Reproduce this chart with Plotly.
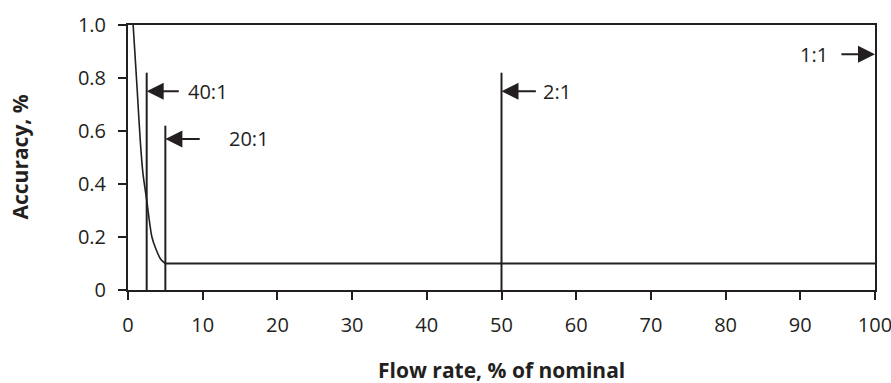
import plotly.graph_objects as go

# ---- data ----
curve_flow = [0.69, 1.0, 1.23, 1.65, 2.0, 2.5, 3.2, 3.8, 4.4, 5.0]
curve_acc = [1.0, 0.86, 0.755, 0.56, 0.44, 0.34, 0.2, 0.15, 0.115, 0.1]

flat_flow = [5, 100]
flat_acc = [0.1, 0.1]

ratio_labels = ["40:1", "20:1", "2:1", "1:1"]
ratio_flow = [2.5, 5, 50, 100]
ratio_top = [0.82, 0.62, 0.82, 1.0]
arrow_acc = [0.75, 0.57, 0.75, 0.89]
arrow_tail_flow = [7.0, 9.8, 54.8, 95.3]
label_flow = [7.8, 13.2, 55.3, 94.0]

x_ticks = [0, 10, 20, 30, 40, 50, 60, 70, 80, 90, 100]
y_ticks = [0, 0.2, 0.4, 0.6, 0.8, 1.0]
y_tick_text = ["0", "0.2", "0.4", "0.6", "0.8", "1.0"]

x_title = "Flow rate, % of nominal"
y_title = "Accuracy, %"

INK = "#231f20"
FONT = "Open Sans"
TICK_SIZE = 20
TITLE_SIZE = 21

fig = go.Figure()

fig.add_trace(go.Scatter(x=curve_flow, y=curve_acc, mode="lines",
                         line=dict(color=INK, width=1.6, shape="spline", smoothing=0.8),
                         hoverinfo="skip", showlegend=False))
fig.add_trace(go.Scatter(x=flat_flow, y=flat_acc, mode="lines",
                         line=dict(color=INK, width=2),
                         hoverinfo="skip", showlegend=False))

vx, vy = [], []
for f, t in zip(ratio_flow[:3], ratio_top[:3]):
    vx += [f, f, None]
    vy += [0, t, None]
fig.add_trace(go.Scatter(x=vx, y=vy, mode="lines",
                         line=dict(color=INK, width=2),
                         hoverinfo="skip", showlegend=False))

for lab, f, a, tail, lf in zip(ratio_labels, ratio_flow, arrow_acc, arrow_tail_flow, label_flow):
    fig.add_annotation(x=f, y=a, ax=tail, ay=a, xref="x", yref="y", axref="x", ayref="y",
                       text="", showarrow=True, arrowhead=2, arrowsize=1.7, arrowwidth=2,
                       arrowcolor=INK, standoff=0)
    anchor = "right" if tail < f else "left"
    fig.add_annotation(x=lf, y=a, xref="x", yref="y", text=lab, showarrow=False,
                       xanchor=anchor, yanchor="middle",
                       font=dict(family=FONT, size=TICK_SIZE, color=INK))

fig.add_annotation(x=0.5, y=0, xref="paper", yref="paper", yshift=-80, text="<b>%s</b>" % x_title,
                   showarrow=False, xanchor="center", yanchor="middle",
                   font=dict(family=FONT, size=TITLE_SIZE, color=INK))
fig.add_annotation(x=0, y=0.5, xref="paper", yref="paper", xshift=-109, text="<b>%s</b>" % y_title,
                   showarrow=False, xanchor="center", yanchor="middle", textangle=-90,
                   font=dict(family=FONT, size=TITLE_SIZE, color=INK))

fig.update_xaxes(range=[0, 100], tickvals=x_ticks, ticks="outside", ticklen=8,
                 tickwidth=2, tickcolor=INK, showline=True, linecolor=INK, linewidth=2,
                 mirror=True, showgrid=False, zeroline=False, automargin=False,
                 ticklabeloverflow="allow",
                 tickfont=dict(family=FONT, size=TICK_SIZE, color=INK),
                 ticklabelstandoff=8)
fig.update_yaxes(range=[0, 1.0], tickvals=y_ticks, ticktext=y_tick_text, ticks="outside",
                 ticklen=8, tickwidth=2, tickcolor=INK, showline=True, linecolor=INK,
                 linewidth=2, mirror=True, showgrid=False, zeroline=False, automargin=False,
                 ticklabeloverflow="allow",
                 tickfont=dict(family=FONT, size=TICK_SIZE, color=INK),
                 ticklabelstandoff=8)

fig.update_layout(width=891, height=383, margin=dict(l=128, r=16, t=25, b=93),
                  plot_bgcolor="white", paper_bgcolor="white", showlegend=False)

fig.write_html("out.html", config={"displayModeBar": False},
               post_script="document.body.style.margin='0';document.body.style.overflow='hidden';")
